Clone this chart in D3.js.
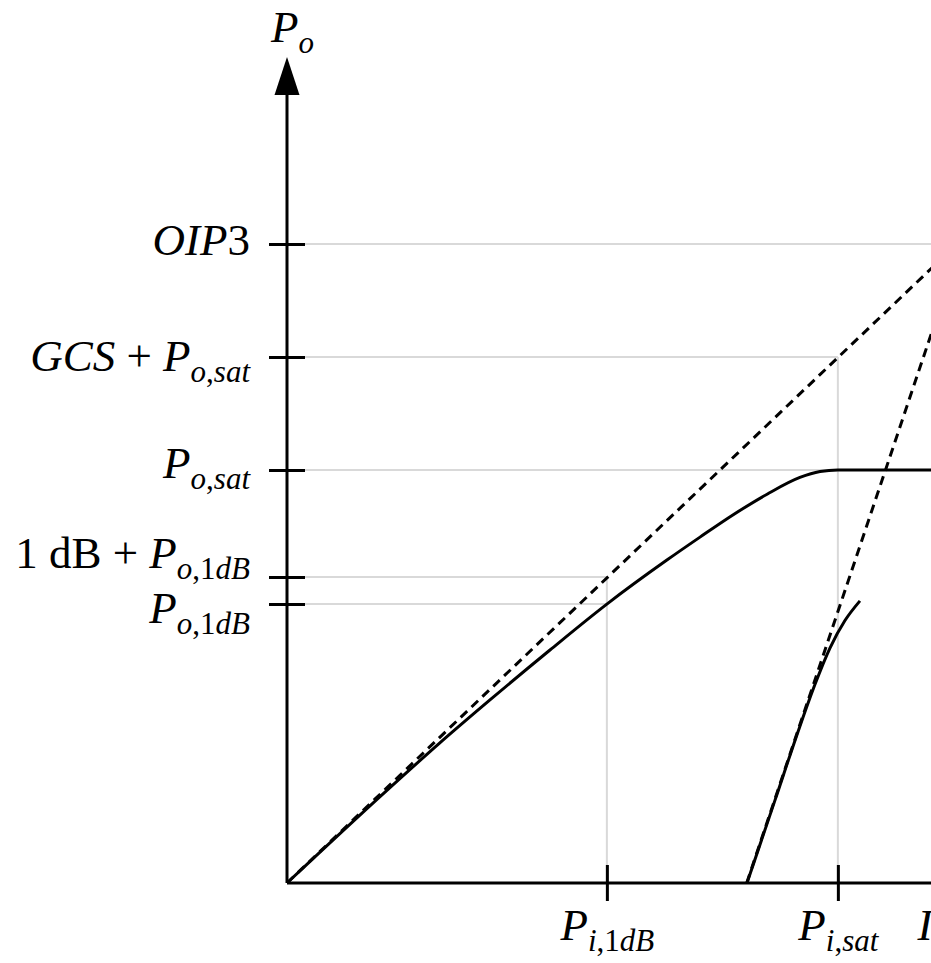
<!DOCTYPE html>
<html>
<head>
<meta charset="utf-8">
<title>Amplifier compression and IP3</title>
<script src="https://cdn.jsdelivr.net/npm/d3@7/dist/d3.min.js"></script>
<style>
    html, body { margin: 0; padding: 0; background: #fff; overflow: hidden; }
    svg { display: block; }
    .math { font-family: 'Liberation Serif', 'Times New Roman', serif; fill: #000; }
    .grid { stroke: #d9d9d9; stroke-width: 2; fill: none; }
    .curve { stroke: #000; stroke-width: 3; fill: none; }
    .curve.dashed { stroke-dasharray: 9, 6; }
</style>
</head>
<body>
<svg id="chart" width="931" height="963"></svg>
<script>
'use strict';

// ticks on the input (x) and output (y) axes, dB from the origin
var xTickValues = [11.30, 19.46, 23.67];
var xTickLabels = ['P_{i,1dB}', 'P_{i,sat}', 'IIP3'];

var yTickValues = [23.67, 19.48, 15.30, 11.33, 10.33];
var yTickLabels = ['OIP3', 'GCS + P_{o,sat}', 'P_{o,sat}', '\\rm{1 dB} + P_{o,1dB}', 'P_{o,1dB}'];

// fundamental output power (compression curve)
var fundIn  = [0, 3.53, 5.40, 7.17, 9.29, 11.30, 13.42, 14.59, 15.75, 16.96, 18.12, 18.83, 19.46, 24.0];
var fundOut = [0, 3.43, 5.19, 6.78, 8.63, 10.33, 11.96, 12.81, 13.63, 14.40, 15.02, 15.24, 15.30, 15.30];

// small signal gain asymptote
var gainIn  = [0, 23.9];
var gainOut = [0, 23.9];

// third order intermod product and its asymptote
var im3In  = [16.25, 17.24, 18.12, 18.65, 19.18, 19.71, 20.24];
var im3Out = [0, 3.07, 5.81, 7.35, 8.70, 9.72, 10.45];
var im3AsymIn  = [16.24, 23.9];
var im3AsymOut = [0, 23.9];

// guide lines: [x tick index, y tick index]
var hGuides = [[2, 0], [1, 1], [1, 2], [0, 3], [0, 4]];
var vGuides = [[0, 3], [1, 1], [2, 0]];

var width = 931,
    height = 963,
    margin = {left: 287, bottom: 80},
    fontSize = 45,
    subSize = 31,
    subShift = 11,
    tickLen = 18;

// label baseline offsets (px) against their tick
var yLabelDy = [11, 13, 8, -10, 18];

var x = d3.scaleLinear().domain([0, 22.75]).range([margin.left, width]);
var y = d3.scaleLinear().domain([0, 27]).range([height - margin.bottom, height - margin.bottom - 27 * 27]);

/**
 * Split a tiny tex-like string into styled runs
 */
function texParts(str) {
    var parts = [],
        re = /\\rm\{([^}]*)\}|_\{([^}]*)\}|([^\\_]+)/g,
        m;

    function push(text, italic, sub) {
        var last = parts[parts.length - 1];
        if (last && last.italic === italic && last.sub === sub) {
            last.text += text;
        } else {
            parts.push({text: text, italic: italic, sub: sub});
        }
    }

    while ((m = re.exec(str)) !== null) {
        if (m[1] !== undefined) {
            push(m[1], false, false);
        } else {
            var sub = m[2] !== undefined;
            (sub ? m[2] : m[3]).split('').forEach(function (c) {
                push(c, /[A-Za-z]/.test(c), sub);
            });
        }
    }
    return parts;
}

/**
 * Write runs as tspans, baseline moved by offset px
 */
function writeMath(text, str, offset) {
    var shift = -(offset || 0);
    text.text(null)
        .attr('class', 'math')
        .attr('xml:space', 'preserve')
        .attr('font-size', fontSize)
        .attr('dy', null);

    texParts(str).forEach(function (p) {
        var target = p.sub ? subShift : 0;
        text.append('tspan')
            .attr('dy', target - shift)
            .attr('font-size', p.sub ? subSize : null)
            .style('font-style', p.italic ? 'italic' : 'normal')
            .text(p.text);
        shift = target;
    });
}

var chart = {
    create: function (name, args) {
        var func = 'create' + name;

        if (typeof(this[func]) === 'function') {
            return this[func].call(this, args);
        }
    },

    /**
     * Light guide lines from the axes to the marked points
     */
    createGrid: function (svg) {
        var g = svg.append('g').attr('class', 'guides');

        g.selectAll('line.h')
            .data(hGuides)
            .enter().append('line')
            .attr('class', 'grid h')
            .attr('x1', x(0))
            .attr('x2', function (d) { return x(xTickValues[d[0]]); })
            .attr('y1', function (d) { return y(yTickValues[d[1]]); })
            .attr('y2', function (d) { return y(yTickValues[d[1]]); });

        g.selectAll('line.v')
            .data(vGuides)
            .enter().append('line')
            .attr('class', 'grid v')
            .attr('x1', function (d) { return x(xTickValues[d[0]]); })
            .attr('x2', function (d) { return x(xTickValues[d[0]]); })
            .attr('y1', y(0))
            .attr('y2', function (d) { return y(yTickValues[d[1]]); });
    },

    createCurves: function (svg) {
        var g = svg.append('g').attr('class', 'curves');

        function path(xs, ys, curve) {
            return d3.line()
                .x(function (d, i) { return x(xs[i]); })
                .y(function (d, i) { return y(ys[i]); })
                .curve(curve)(xs);
        }

        g.append('path').attr('class', 'curve dashed').attr('d', path(gainIn, gainOut, d3.curveLinear));
        g.append('path').attr('class', 'curve dashed').attr('d', path(im3AsymIn, im3AsymOut, d3.curveLinear));
        g.append('path').attr('class', 'curve').attr('d', path(fundIn, fundOut, d3.curveMonotoneX));
        g.append('path').attr('class', 'curve').attr('d', path(im3In, im3Out, d3.curveMonotoneX));
    },

    /**
     * Axis lines, the arrow on the output axis and the crossing ticks
     */
    createAxes: function (svg) {
        var x0 = x(0), y0 = y(0), arrowTip = 57, arrowBase = 95;

        svg.append('line')
            .attr('x1', x0).attr('y1', y0)
            .attr('x2', width + 40).attr('y2', y0)
            .attr('stroke', '#000').attr('stroke-width', 3);

        svg.append('line')
            .attr('x1', x0).attr('y1', y0)
            .attr('x2', x0).attr('y2', arrowBase)
            .attr('stroke', '#000').attr('stroke-width', 3);

        svg.append('path')
            .attr('d', 'M' + x0 + ',' + arrowTip + 'L' + (x0 + 12.5) + ',' + arrowBase + 'L' + (x0 - 12.5) + ',' + arrowBase + 'z')
            .attr('fill', '#000');

        var gy = svg.append('g')
            .attr('transform', 'translate(' + x0 + ',0)')
            .call(d3.axisLeft(y)
                .tickValues(yTickValues)
                .tickSize(tickLen)
                .tickPadding(19)
                .tickFormat(function (d, i) { return yTickLabels[i]; }));

        gy.select('.domain').remove();
        gy.selectAll('.tick line')
            .attr('x1', tickLen)
            .attr('stroke', '#000')
            .attr('stroke-width', 3);
        gy.selectAll('.tick text').each(function (d, i) {
            writeMath(d3.select(this), yTickLabels[i], yLabelDy[i]);
        });

        var gx = svg.append('g')
            .attr('transform', 'translate(0,' + y0 + ')')
            .call(d3.axisBottom(x)
                .tickValues(xTickValues)
                .tickSize(tickLen)
                .tickFormat(function (d, i) { return xTickLabels[i]; }));

        gx.select('.domain').remove();
        gx.selectAll('.tick line')
            .attr('y1', -tickLen)
            .attr('stroke', '#000')
            .attr('stroke-width', 3);
        gx.selectAll('.tick text').each(function (d, i) {
            var t = d3.select(this);
            writeMath(t, xTickLabels[i], 0);
            t.attr('y', 57);
        });
    },

    createTitle: function (svg) {
        var t = svg.append('text')
            .attr('x', x(0) - 16)
            .attr('y', 42);
        writeMath(t, 'P_{o}', 0);
    }
};

var svg = d3.select('#chart');

chart.create('Grid', svg);
chart.create('Curves', svg);
chart.create('Axes', svg);
chart.create('Title', svg);
</script>
</body>
</html>
